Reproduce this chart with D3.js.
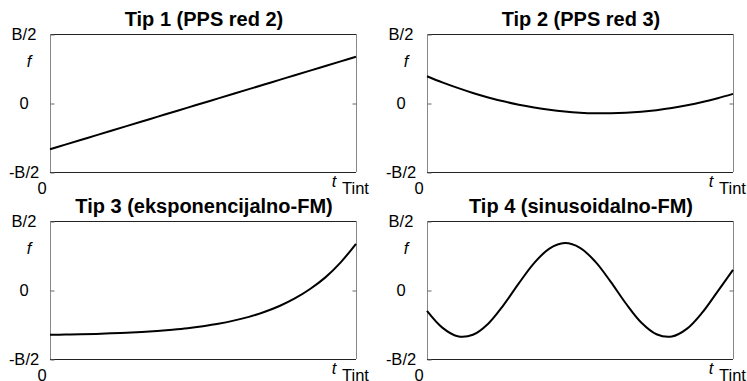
<!DOCTYPE html>
<html>
<head>
<meta charset="utf-8">
<script src="https://cdn.jsdelivr.net/npm/d3@7"></script>
<style>
  body { margin: 0; background: #fff; }
  text { font-family: "Liberation Sans", Arial, Helvetica, sans-serif; }
</style>
</head>
<body>
<div id="chart"></div>
<script>
// time grid (fraction of Tint) and frequency values in units of B/2
var tGrid = [0, 0.05, 0.1, 0.15, 0.2, 0.25, 0.3, 0.35, 0.4, 0.45, 0.5,
             0.55, 0.6, 0.65, 0.7, 0.75, 0.8, 0.85, 0.9, 0.95, 1];
var tip1 = [-0.670, -0.603, -0.536, -0.469, -0.402, -0.335, -0.268, -0.201, -0.134, -0.067, 0.000,
            0.067, 0.134, 0.201, 0.268, 0.335, 0.402, 0.469, 0.536, 0.603, 0.670];
var tip2 = [0.388, 0.299, 0.219, 0.146, 0.081, 0.024, -0.025, -0.065, -0.098, -0.123, -0.140,
            -0.149, -0.149, -0.142, -0.127, -0.104, -0.073, -0.033, 0.014, 0.069, 0.132];
var tip3 = [-0.650, -0.646, -0.642, -0.636, -0.628, -0.619, -0.608, -0.593, -0.575, -0.553, -0.524,
            -0.489, -0.444, -0.389, -0.319, -0.232, -0.122, 0.015, 0.183, 0.401, 0.670];
var tip4 = [-0.303, -0.545, -0.670, -0.649, -0.488, -0.219, 0.096, 0.390, 0.600, 0.680, 0.612,
            0.411, 0.121, -0.196, -0.471, -0.641, -0.674, -0.560, -0.325, -0.019, 0.291];

var titles = ['Tip 1 (PPS red 2)', 'Tip 2 (PPS red 3)', 'Tip 3 (eksponencijalno-FM)', 'Tip 4 (sinusoidalno-FM)'];
var series = [tip1, tip2, tip3, tip4];
var yTicks = [1, 0, -1];
var yTickLabels = ['B/2', '0', '-B/2'];

var W = 747, H = 381;
var cols = [50, 427], rows = [34, 221];
var pw = 306, ph = 138;

var svg = d3.select('#chart')
    .append('svg')
    .attr('width', W)
    .attr('height', H);

series.forEach(function (vals, i) {
    var left = cols[i % 2], top = rows[Math.floor(i / 2)];

    var xS = d3.scaleLinear().domain([0, 1]).range([0, pw]);
    var yS = d3.scaleLinear().domain([-1, 1]).range([ph, 0]);

    var g = svg.append('g')
        .attr('transform', 'translate(' + left + ',' + top + ')');

    // frame
    g.append('line').attr('x1', 0).attr('x2', pw).attr('y1', 0.5).attr('y2', 0.5).attr('stroke', '#222');
    g.append('line').attr('x1', 0).attr('x2', pw).attr('y1', ph + 0.5).attr('y2', ph + 0.5).attr('stroke', '#222');
    g.append('line').attr('x1', 0.5).attr('x2', 0.5).attr('y1', 0).attr('y2', ph).attr('stroke', '#888');
    g.append('line').attr('x1', pw + 0.5).attr('x2', pw + 0.5).attr('y1', 0).attr('y2', ph).attr('stroke', '#888');

    // y axis: inward tick at zero, labels B/2, 0, -B/2
    var yAx = g.append('g')
        .call(d3.axisLeft(yS).tickValues(yTicks).tickSize(-4)
            .tickFormat(function (d, k) { return yTickLabels[k]; }));
    yAx.select('.domain').remove();
    yAx.selectAll('.tick line').attr('stroke', '#666').attr('transform', 'translate(0.5,0.5)');
    yAx.selectAll('.tick text')
        .attr('x', -26)
        .attr('text-anchor', 'middle')
        .attr('dy', '0.36em')
        .style('font-size', '16.5px')
        .style('font-family', '"Liberation Sans", Arial, sans-serif')
        .attr('fill', '#000');

    var yAxR = g.append('g')
        .attr('transform', 'translate(' + pw + ',0)')
        .call(d3.axisRight(yS).tickValues([0]).tickSize(-4).tickFormat(''));
    yAxR.select('.domain').remove();
    yAxR.selectAll('.tick line').attr('stroke', '#666').attr('transform', 'translate(0.5,0.5)');

    // axis captions
    g.append('text')
        .attr('x', -21).attr('y', 33)
        .attr('text-anchor', 'middle')
        .style('font-size', '16.5px')
        .style('font-style', 'italic')
        .text('f');
    g.append('text')
        .attr('x', -8).attr('y', ph + 22)
        .attr('text-anchor', 'middle')
        .style('font-size', '16.5px')
        .text('0');
    g.append('text')
        .attr('x', pw - 22).attr('y', ph + 15)
        .attr('text-anchor', 'middle')
        .style('font-size', '16.5px')
        .style('font-style', 'italic')
        .text('t');
    g.append('text')
        .attr('x', pw - 14).attr('y', ph + 22)
        .style('font-size', '16.5px')
        .text('Tint');

    // title
    g.append('text')
        .attr('x', pw / 2 + 1).attr('y', -8)
        .attr('text-anchor', 'middle')
        .style('font-size', '20px')
        .style('font-weight', 'bold')
        .text(titles[i]);

    var line = d3.line()
        .x(function (d, k) { return xS(tGrid[k]); })
        .y(function (d) { return yS(d); })
        .curve(d3.curveCatmullRom);

    g.append('path')
        .datum(vals)
        .attr('d', line)
        .attr('fill', 'none')
        .attr('stroke', '#000')
        .attr('stroke-width', 2);
});
</script>
</body>
</html>
